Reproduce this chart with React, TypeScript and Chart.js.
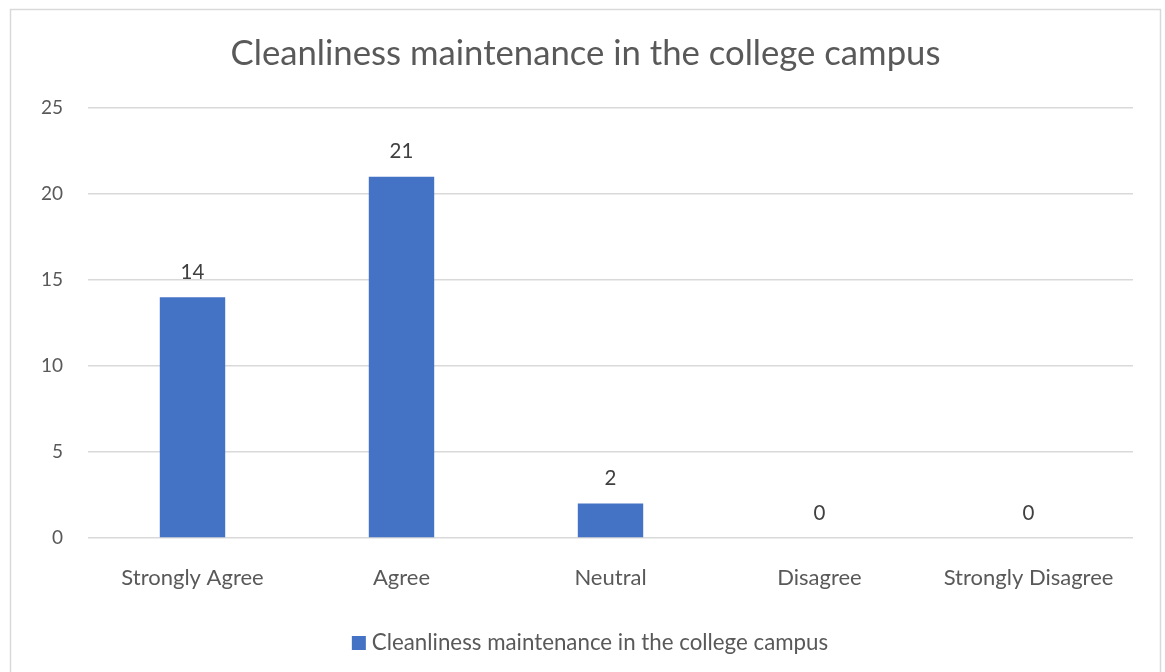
import React, { useEffect, useRef } from "react";
import { Chart, registerables } from "chart.js";

Chart.register(...registerables);

const categories = ["Strongly Agree", "Agree", "Neutral", "Disagree", "Strongly Disagree"];
const seriesName = "Cleanliness maintenance in the college campus";
const values = [14, 21, 2, 0, 0];
const yTicks = [0, 5, 10, 15, 20, 25];
const chartTitle = "Cleanliness maintenance in the college campus";

const FONT = "Lato, 'Open Sans', sans-serif";
const TEXT = "#595959";
const GRID = "#d9d9d9";
const BAR = "#4472C4";

export default function App() {
  const ref = useRef<HTMLCanvasElement>(null);
  useEffect(() => {
    document.body.style.margin = "0";
    document.body.style.overflow = "hidden";
    const frame = {
      id: "frame",
      beforeDraw(chart: any) {
        const c = chart.ctx;
        c.save();
        c.fillStyle = "#ffffff";
        c.fillRect(0, 0, chart.width, chart.height);
        c.strokeStyle = GRID;
        c.lineWidth = 1.5;
        c.beginPath();
        c.moveTo(10.5, chart.height + 5);
        c.lineTo(10.5, 9.5);
        c.lineTo(1160.5, 9.5);
        c.lineTo(1160.5, chart.height + 5);
        c.stroke();
        c.restore();
      },
    };
    const labels = {
      id: "valueLabels",
      afterDatasetsDraw(chart: any) {
        const c = chart.ctx;
        const meta = chart.getDatasetMeta(0);
        c.save();
        c.font = `20.5px ${FONT}`;
        c.fillStyle = "#404040";
        c.textAlign = "center";
        c.textBaseline = "middle";
        meta.data.forEach((bar: any, i: number) => {
          c.fillText(String(values[i]), bar.x, bar.y - 25);
        });
        c.restore();
      },
    };
    const texts = {
      id: "titleLegend",
      afterDraw(chart: any) {
        const c = chart.ctx;
        const cx = (10 + 1161) / 2;
        c.save();
        c.font = `34.7px ${FONT}`;
        c.fillStyle = TEXT;
        c.textAlign = "center";
        c.textBaseline = "alphabetic";
        c.fillText(chartTitle, cx, 65);

        c.font = `22.3px ${FONT}`;
        const tw = c.measureText(seriesName).width;
        const box = 14;
        const gap = 6;
        const total = box + gap + tw;
        const x0 = cx + 4.5 - total / 2;
        const cy = 643;
        c.fillStyle = BAR;
        c.fillRect(x0, cy - box / 2, box, box);
        c.fillStyle = TEXT;
        c.textAlign = "left";
        c.textBaseline = "middle";
        c.fillText(seriesName, x0 + box + gap, cy);
        c.restore();
      },
    };
    const chart = new Chart(ref.current!, {
      type: "bar",
      data: {
        labels: categories,
        datasets: [
          {
            label: seriesName,
            data: values,
            backgroundColor: BAR,
            borderWidth: 0,
            barPercentage: 0.313,
            categoryPercentage: 1,
          },
        ],
      },
      options: {
        animation: false,
        responsive: false,
        maintainAspectRatio: false,
        layout: { padding: { top: 108, left: 0, right: 32, bottom: 72 } },
        plugins: {
          title: { display: false },
          legend: { display: false },
          tooltip: { enabled: false },
        },
        scales: {
          x: {
            grid: { display: false, drawTicks: false },
            border: { display: false },
            ticks: { color: TEXT, font: { family: FONT, size: 22 }, padding: 27, maxRotation: 0 },
            afterFit(scale: any) {
              scale.height = 62;
            },
          },
          y: {
            min: 0,
            max: 25,
            afterBuildTicks(scale: any) {
              scale.ticks = yTicks.map((v) => ({ value: v }));
            },
            grid: { color: GRID, lineWidth: 1.5, drawTicks: false },
            border: { display: false },
            ticks: { color: TEXT, font: { family: FONT, size: 19 }, padding: 25 },
            afterFit(scale: any) {
              scale.width = 88;
            },
          },
        },
      },
      plugins: [frame, labels, texts],
    });
    return () => chart.destroy();
  }, []);
  return <canvas ref={ref} width={1165} height={672} style={{ display: "block" }} />;
}
